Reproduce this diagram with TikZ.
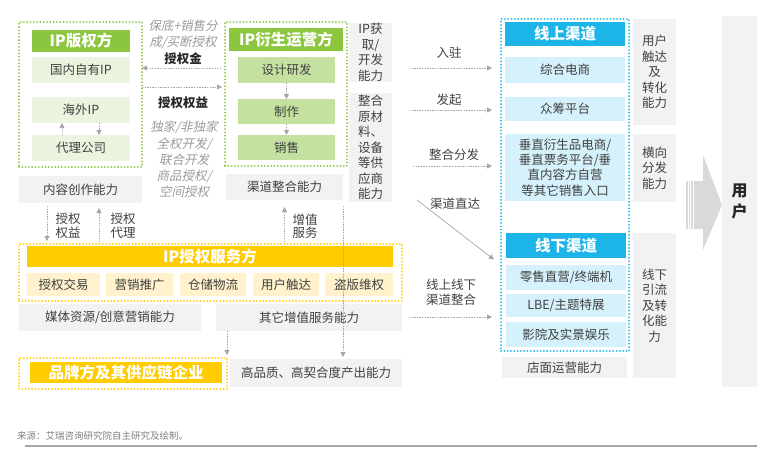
\documentclass[tikz,border=0pt]{standalone}
\usepackage{fontspec}
\setmainfont{Noto Sans CJK SC}
\newfontfamily\slfont[FakeSlant=0.22]{Noto Sans CJK SC}
\usetikzlibrary{arrows.meta}
\definecolor{gA}{HTML}{8CC63E}
\definecolor{gL}{HTML}{EBF4DE}
\definecolor{gM}{HTML}{C5E1A0}
\definecolor{yA}{HTML}{FFCC00}
\definecolor{yL}{HTML}{FFF2CC}
\definecolor{bA}{HTML}{1DB5E8}
\definecolor{bL}{HTML}{D5F1FB}
\definecolor{gr}{HTML}{F2F2F2}
\definecolor{tx}{HTML}{404040}
\definecolor{ln}{HTML}{A6A6A6}
\definecolor{it}{HTML}{9A9A9A}
\definecolor{arw}{HTML}{D9D9D9}
\newcommand\bx[7]{\node[#2, minimum width={(#5-#3)*1pt}, minimum height={(#6-#4)*1pt}] (#1) at (#3,#4) {#7};}
\tikzset{
  base/.style={inner sep=0pt, outer sep=0pt, anchor=north west, text=tx, align=center,
    font=\fontsize{12.5}{15.3}\selectfont},
  grbox/.style={base, fill=gr},
  side/.style={base, fill=gr, font=\fontsize{12.5}{15.5}\selectfont},
  hdr/.style={base, text=white, font=\bfseries\fontsize{15.5}{18}\selectfont},
  frame/.style={base, line width=2pt, dash pattern=on 0pt off 3.3pt, line cap=round},
  lbl/.style={inner sep=0pt, text=tx, align=center, font=\fontsize{12.5}{15.3}\selectfont},
  blbl/.style={lbl, text=black!85, font=\bfseries\fontsize{12.5}{15}\selectfont},
  slbl/.style={lbl, text=it, font=\slfont\fontsize{12.5}{16.2}\selectfont},
  arr/.style={draw=ln, line width=0.8pt, dash pattern=on 1.3pt off 1.3pt,
    -{Triangle[length=5pt,width=5pt]}, fill=ln},
  sarr/.style={draw=ln, line width=0.7pt, -{Triangle[length=5pt,width=5pt]}}
}
\begin{document}
\begin{tikzpicture}[x=1pt,y=-1pt]
\useasboundingbox (0,0) rectangle (768,450);
% IP版权方
\bx{fA}{frame,draw=gA}{19}{22}{142}{167}{}
\bx{hA}{hdr,fill=gA}{32}{30}{130}{52}{IP版权方}
\bx{a1}{base,fill=gL}{32}{57}{130}{83}{国内自有IP}
\bx{a2}{base,fill=gL}{32}{97}{130}{123}{海外IP}
\bx{a3}{base,fill=gL}{32}{135}{130}{161}{代理公司}
\bx{cA}{grbox}{19}{176}{142}{203}{内容创作能力}
% IP衍生运营方
\bx{fB}{frame,draw=gA}{225}{22}{347}{166}{}
\bx{hB}{hdr,fill=gA}{229}{28}{343}{51}{IP衍生运营方}
\bx{b1}{base,fill=gM}{238}{57}{335}{83}{设计研发}
\bx{b2}{base,fill=gM}{238}{99}{335}{124}{制作}
\bx{b3}{base,fill=gM}{238}{135}{335}{160}{销售}
\bx{cB}{grbox}{226}{174}{343}{200}{渠道整合能力}
\bx{sB1}{side}{349}{23}{392}{82}{IP获\\取/\\开发\\能力}
\bx{sB2}{side}{349}{93}{392}{202}{整合\\原材\\料、\\设备\\等供\\应商\\能力}
% IP授权服务方
\bx{fC}{frame,draw=yA}{19}{244}{402}{301}{}
\bx{hC}{hdr,fill=yA}{27}{246}{393}{267}{IP授权服务方}
\bx{c1}{base,fill=yL}{27}{273}{100}{296}{授权交易}
\bx{c2}{base,fill=yL}{106}{273}{173}{296}{营销推广}
\bx{c3}{base,fill=yL}{180}{273}{246}{296}{仓储物流}
\bx{c4}{base,fill=yL}{253}{273}{319}{296}{用户触达}
\bx{c5}{base,fill=yL}{325}{273}{393}{296}{盗版维权}
\bx{gC1}{grbox}{19}{304}{201}{331}{媒体资源/创意营销能力}
\bx{gC2}{grbox}{216}{304}{402}{331}{其它增值服务能力}
% 品牌方
\bx{fD}{frame,draw=yA}{19}{358}{227}{389}{}
\bx{hD}{hdr,fill=yA}{30}{362}{222}{383}{品牌方及其供应链企业}
\bx{gD}{grbox}{230}{359}{402}{387}{高品质、高契合度产出能力}
% 渠道
\bx{fE}{frame,draw=bA}{501}{19}{629}{351}{}
\bx{hE1}{hdr,fill=bA}{505}{22}{625}{46}{线上渠道}
\bx{e1}{base,fill=bL}{505}{57}{625}{83}{综合电商}
\bx{e2}{base,fill=bL}{505}{97}{625}{121}{众筹平台}
\bx{e3}{base,fill=bL}{505}{134}{625}{201}{垂直衍生品电商/\\垂直票务平台/垂\\直内容方自营\\等其它销售入口}
\bx{hE2}{hdr,fill=bA}{506}{233}{626}{258}{线下渠道}
\bx{e4}{base,fill=bL}{506}{265}{626}{290}{零售直营/终端机}
\bx{e5}{base,fill=bL}{506}{294}{626}{317}{LBE/主题特展}
\bx{e6}{base,fill=bL}{506}{322}{626}{347}{影院及实景娱乐}
\bx{gE}{grbox}{502}{357}{627}{378}{店面运营能力}
% right column
\bx{R1}{side}{633}{19}{676}{125}{用户\\触达\\及\\转化\\能力}
\bx{R2}{side}{633}{134}{676}{202}{横向\\分发\\能力}
\bx{R3}{side}{633}{233}{676}{378}{线下\\引流\\及转\\化能\\力}
\bx{U}{grbox,text=black!85,font=\bfseries\fontsize{16}{21}\selectfont}{722}{16}{757}{387}{用\\户}
% big arrow
\fill[arw] (686,181) -- (703,181) -- (703,155) -- (722,205) -- (703,250) -- (703,229) -- (686,229) -- cycle;
\foreach \xx in {688.2,690.6,693}{\draw[white, line width=0.6pt] (\xx,181) -- (\xx,229);}
% labels
\node[slbl] (t1) at (183,34) {保底+销售分\\成/买断授权};
\node[blbl] (t2) at (183,59) {授权金};
\node[blbl] (t3) at (183,103) {授权权益};
\node[slbl] (t4) at (184,159.5) {独家/非独家\\全权开发/\\联合开发\\商品授权/\\空间授权};
\node[lbl, font=\fontsize{12.5}{13.5}\selectfont] (t5) at (68,226) {授权\\权益};
\node[lbl, font=\fontsize{12.5}{13.5}\selectfont] (t6) at (123,226) {授权\\代理};
\node[lbl, font=\fontsize{12.5}{13.5}\selectfont] (t7) at (305,226) {增值\\服务};
\node[lbl] (t8) at (449,53) {入驻};
\node[lbl] (t9) at (449,100) {发起};
\node[lbl] (t10) at (454,155) {整合分发};
\node[lbl] (t11) at (455,204) {渠道直达};
\node[lbl] (t12) at (451,292) {线上线下\\渠道整合};
% connectors
\draw[arr, shorten <=4pt] (fB.west |- 0,68) -- (fA.east |- 0,68);
\draw[arr, shorten >=3pt] (fA.east |- 0,87) -- (fB.west |- 0,87);
\draw[arr] ([xshift=18pt]a2.south) -- ([xshift=18pt]a3.north);
\draw[arr] ([xshift=-19pt]a3.north) -- ([xshift=-19pt]a2.south);
\draw[arr] (b1) -- (b2);
\draw[arr] (b2) -- (b3);
\draw[arr, shorten <=3pt, shorten >=3pt] ([xshift=-33.5pt]cA.south) -- ([xshift=-33.5pt]cA.south |- fC.north);
\draw[arr, shorten <=2pt, shorten >=5pt] ([xshift=18.5pt]cA.south |- fC.north) -- ([xshift=18.5pt]cA.south);
\draw[arr, shorten <=2pt, shorten >=7pt] (cB.south |- fC.north) -- (cB.south);
\draw[arr, shorten <=6pt, shorten >=2pt] (cB.south east) -- (cB.south east |- gD.north);
\draw[arr, shorten >=3pt] ([xshift=11pt]gC2.south west) -- ([xshift=11pt]gC2.south west |- fD.north);
\draw[arr, shorten <=17pt, shorten >=9pt] (sB1.east |- 0,68) -- (fE.west |- 0,68);
\draw[arr, shorten <=17pt, shorten >=9pt] (sB1.east |- 0,110) -- (fE.west |- 0,110);
\draw[arr, shorten <=21pt, shorten >=9pt] (sB2.east |- 0,166) -- (fE.west |- 0,166);
\coordinate (d0) at (417,200);
\draw[sarr, shorten >=9pt] (d0) -- (fE.west |- 0,265) ;
\draw[arr, shorten <=7pt, shorten >=9pt] (gC2.east |- 0,317) -- (fE.west |- 0,317);
% footer
\node[inner sep=0pt, anchor=west, text=black!50, font=\fontsize{9.5}{11}\selectfont] (src) at (17,436) {来源：艾瑞咨询研究院自主研究及绘制。};
\coordinate (f1) at (25,446);
\coordinate (f2) at (757,446);
\draw[black!35, line width=1.2pt] (f1) -- (f2);
\end{tikzpicture}
\end{document}
